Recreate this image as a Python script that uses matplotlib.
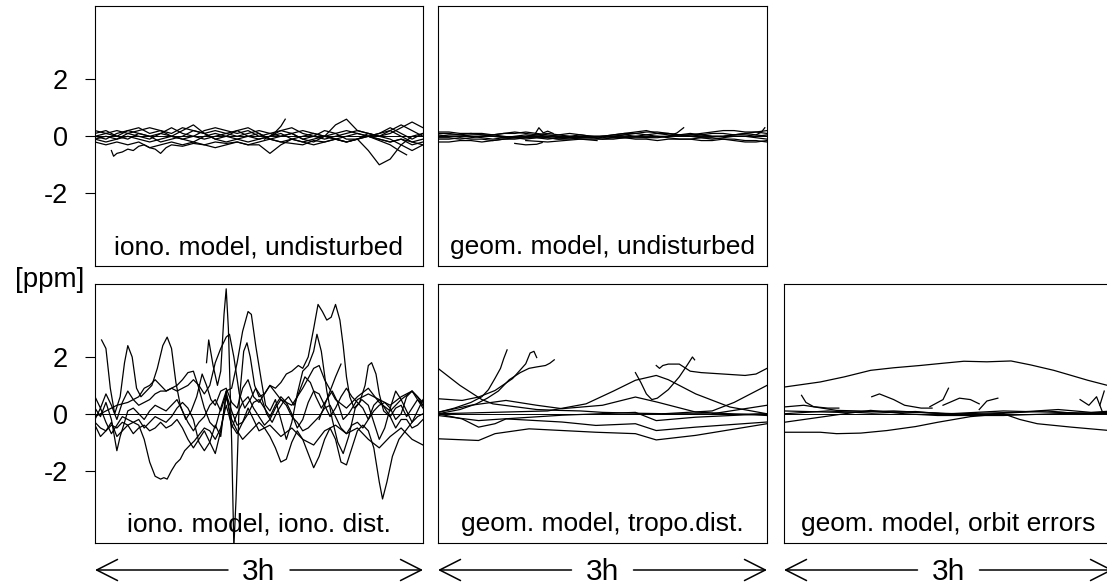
import matplotlib
matplotlib.use("Agg")
import matplotlib.pyplot as plt

plt.rcParams['font.family'] = ['Liberation Sans', 'DejaVu Sans']

W, H = 1107, 586

# time axis for the regularly sampled curves (hours, 0.1 h steps)
hours = [round(0.1 * i, 1) for i in range(31)]

# ---- iono. model, undisturbed  (values on `hours`)
iono_undist = [
    [0.0, 0.1, 0.2, 0.1, 0.2, 0.3, 0.2, 0.1, 0.3, 0.2, 0.1, 0.2, 0.1, 0.0, 0.1, 0.2,
     0.1, 0.0, 0.1, 0.2, 0.1, 0.0, 0.4, 0.6, 0.2, 0.1, 0.0, 0.1, 0.3, 0.5, 0.3],
    [-0.1, 0.0, -0.1, 0.1, 0.0, -0.1, 0.1, 0.0, 0.2, 0.4, 0.1, -0.1, 0.0, 0.2, 0.3, 0.1,
     -0.1, 0.0, 0.1, -0.1, 0.0, 0.2, 0.1, -0.1, -0.1, -0.5, -1.0, -0.8, -0.3, 0.0, 0.1],
    [0.1, 0.2, 0.0, -0.1, 0.1, 0.0, -0.2, -0.1, 0.0, 0.2, 0.1, -0.1, -0.2, -0.1, 0.0, 0.1,
     -0.1, -0.2, -0.1, 0.0, 0.1, 0.0, -0.1, 0.0, 0.1, 0.0, 0.1, 0.2, 0.0, -0.2, -0.1],
    [-0.2, -0.3, -0.2, -0.3, -0.2, -0.4, -0.3, -0.2, -0.3, -0.2, -0.3, -0.4, -0.3, -0.2, -0.3, -0.3,
     -0.6, -0.3, -0.1, -0.2, -0.3, -0.2, -0.1, -0.2, -0.1, 0.0, -0.1, -0.2, -0.1, -0.3, -0.2],
    [0.0, -0.1, 0.1, 0.2, 0.1, 0.0, 0.1, 0.3, 0.1, 0.0, -0.1, 0.0, 0.1, 0.2, 0.0, -0.1,
     0.0, 0.2, 0.1, -0.1, -0.2, 0.0, 0.1, 0.2, 0.1, 0.0, 0.1, 0.3, 0.1, -0.1, 0.1],
    [-0.1, -0.2, -0.1, 0.0, -0.1, -0.2, -0.1, 0.0, -0.1, -0.2, 0.0, 0.1, 0.0, -0.1, -0.2, -0.1,
     0.0, 0.1, -0.1, -0.2, -0.1, 0.0, -0.1, -0.2, -0.1, 0.1, 0.0, -0.1, -0.3, -0.5, -0.3],
    [0.2, 0.1, 0.0, 0.2, 0.3, 0.1, 0.2, 0.0, -0.1, 0.0, 0.2, 0.3, 0.2, 0.1, 0.2, 0.0,
     0.1, 0.2, 0.3, 0.1, 0.0, -0.1, 0.0, 0.1, 0.2, 0.1, 0.0, 0.2, 0.4, 0.2, 0.0],
]
iono_undist_parts = [
    [(0.15, -0.5), (0.17, -0.7), (0.2, -0.6), (0.25, -0.55), (0.3, -0.45), (0.35, -0.5),
     (0.4, -0.35), (0.45, -0.3), (0.5, -0.4), (0.55, -0.45), (0.6, -0.6), (0.65, -0.4),
     (0.7, -0.3), (0.8, -0.35), (0.9, -0.25), (1.0, -0.3), (1.1, -0.2), (1.2, -0.25),
     (1.3, -0.2), (1.4, -0.3), (1.5, -0.2), (1.6, -0.1), (1.7, -0.2), (1.8, -0.25),
     (1.9, -0.3), (2.0, -0.15), (2.1, -0.2), (2.2, -0.1), (2.3, -0.2), (2.4, -0.1),
     (2.5, 0.0), (2.6, -0.1), (2.7, -0.2), (2.8, -0.1), (2.9, -0.2), (3.0, -0.3)],
    [(1.55, -0.1), (1.6, 0.0), (1.65, 0.15), (1.7, 0.35), (1.74, 0.6)],
    [(2.5, 0.0), (2.6, -0.15), (2.7, -0.3), (2.78, -0.5), (2.85, -0.65)],
]

# ---- geom. model, undisturbed  (values on `hours`)
geom_undist = [
    [0.1, 0.1, 0.05, 0.1, 0.1, 0.05, 0.1, 0.1, 0.15, 0.1, 0.05, 0.0, 0.0, 0.05, 0.0, 0.0,
     0.05, 0.1, 0.1, 0.05, 0.1, 0.1, 0.05, 0.0, 0.05, 0.1, 0.1, 0.05, 0.1, 0.15, 0.1],
    [-0.1, -0.1, -0.05, -0.1, -0.1, -0.15, -0.1, -0.1, -0.05, 0.0, -0.05, -0.1, -0.05, 0.0, -0.05, -0.1,
     -0.1, -0.05, 0.0, 0.05, 0.0, -0.05, -0.1, -0.1, -0.15, -0.15, -0.1, -0.15, -0.2, -0.2, -0.15],
    [0.05, 0.0, 0.0, 0.05, 0.05, 0.0, -0.05, -0.05, 0.0, 0.05, 0.1, 0.05, 0.0, -0.05, -0.05, 0.0,
     0.05, 0.1, 0.15, 0.2, 0.1, 0.05, 0.0, 0.05, 0.05, 0.0, 0.0, 0.05, 0.05, 0.0, 0.05],
    [-0.2, -0.2, -0.15, -0.15, -0.2, -0.15, -0.1, -0.05, -0.05, -0.05, -0.1, -0.05, -0.05, -0.1, -0.1, -0.1,
     -0.05, -0.05, -0.1, -0.1, -0.15, -0.1, -0.1, -0.1, -0.05, -0.05, -0.1, -0.1, -0.15, -0.15, -0.2],
    [0.15, 0.15, 0.1, 0.1, 0.05, 0.05, 0.1, 0.15, 0.1, 0.05, 0.0, -0.05, -0.05, -0.05, 0.0, 0.0,
     0.0, 0.05, 0.1, 0.15, 0.15, 0.1, 0.05, 0.05, 0.1, 0.15, 0.2, 0.2, 0.15, 0.15, 0.2],
    [-0.05, -0.05, -0.1, -0.05, 0.0, 0.05, 0.0, -0.05, -0.1, -0.05, -0.05, -0.1, -0.1, -0.05, -0.05, 0.0,
     -0.05, -0.05, -0.05, -0.05, 0.0, 0.0, 0.05, 0.0, -0.05, -0.1, -0.05, 0.0, 0.0, -0.05, -0.1],
    [0.0, 0.05, 0.05, 0.0, -0.05, -0.1, -0.05, 0.0, 0.05, 0.0, 0.0, 0.05, 0.1, 0.05, 0.0, -0.05,
     0.0, 0.05, 0.0, -0.05, -0.05, 0.0, 0.05, 0.1, 0.05, 0.0, 0.0, 0.05, 0.1, 0.05, 0.0],
]
geom_undist_parts = [
    [(0.7, -0.25), (0.8, -0.3), (0.9, -0.28), (0.95, -0.22)],
    [(0.88, 0.05), (0.92, 0.3), (0.96, 0.12), (1.0, 0.18), (1.05, 0.1)],
    [(2.1, 0.0), (2.18, 0.12), (2.24, 0.3)],
    [(2.9, 0.05), (2.95, 0.15), (2.98, 0.3)],
    [(0.8, -0.15), (1.0, -0.2), (1.15, -0.15), (1.3, -0.1), (1.45, -0.15)],
]

# ---- iono. model, iono. dist.  (hour, ppm)
iono_dist = [
    [(0.06, 2.6), (0.1, 2.3), (0.14, 0.9), (0.18, 0.0), (0.23, 0.6), (0.27, 1.8), (0.3, 2.4),
     (0.34, 2.0), (0.38, 0.9), (0.42, 0.6), (0.47, 0.8), (0.52, 1.0), (0.57, 1.6), (0.62, 2.4),
     (0.66, 2.7), (0.7, 2.3), (0.74, 1.1), (0.78, 0.3), (0.83, -0.2), (0.88, 0.1), (0.93, 0.6),
     (0.98, 1.4), (1.02, 1.0), (1.06, 0.5), (1.1, 0.3), (1.15, 0.8), (1.2, 0.9), (1.25, 0.4),
     (1.3, 0.2), (1.35, 0.9), (1.4, 1.2), (1.45, 0.6), (1.5, 0.4), (1.55, 0.7), (1.6, 1.0),
     (1.7, 0.5), (1.8, 0.3), (1.9, 0.9), (2.0, 1.6), (2.05, 1.7), (2.1, 1.2), (2.2, 0.5),
     (2.3, 0.2), (2.4, 0.6), (2.5, 0.9), (2.6, 0.4), (2.7, 0.1), (2.8, 0.5), (2.9, 0.8), (3.0, 0.4)],
    [(0.0, -0.3), (0.05, -0.5), (0.1, -0.6), (0.15, -0.4), (0.2, -0.5), (0.25, -0.3), (0.3, -0.4),
     (0.35, -0.3), (0.4, -0.4), (0.45, -0.9), (0.5, -1.7), (0.55, -2.2), (0.6, -2.3), (0.63, -2.25),
     (0.66, -2.3), (0.7, -2.0), (0.74, -1.75), (0.78, -1.6), (0.82, -1.3), (0.87, -1.1),
     (0.91, -0.95), (0.96, -0.7), (1.0, -0.5), (1.05, -0.6), (1.1, -0.9), (1.15, -0.5), (1.2, 0.3),
     (1.25, -0.4), (1.3, -0.7), (1.35, -0.3), (1.4, 0.2), (1.45, -0.2), (1.5, -0.6), (1.6, -0.4),
     (1.7, -0.8), (1.8, -0.5), (1.9, -0.9), (2.0, -1.1), (2.1, -0.6), (2.2, -0.4), (2.3, -0.7),
     (2.4, -0.5), (2.5, -0.9), (2.6, -1.2), (2.7, -0.8), (2.8, -0.5), (2.9, -0.9), (3.0, -1.1)],
    [(1.02, 1.8), (1.04, 2.6), (1.08, 1.7), (1.12, 1.0), (1.15, 1.5), (1.18, 3.5), (1.2, 4.4),
     (1.22, 3.0), (1.25, -1.0), (1.27, -4.7), (1.29, -3.0), (1.32, 0.5), (1.36, 2.2), (1.39, 2.5),
     (1.42, 2.0), (1.46, 1.0), (1.5, 0.6), (1.55, 0.7), (1.6, 1.0), (1.65, 0.9), (1.7, 1.1),
     (1.75, 1.4), (1.8, 1.5), (1.86, 1.7), (1.9, 1.6), (1.95, 2.0), (2.0, 3.0), (2.04, 3.85),
     (2.08, 3.6), (2.12, 3.3), (2.16, 3.4), (2.2, 3.85), (2.24, 3.3), (2.27, 2.4), (2.3, 1.3),
     (2.33, 0.6), (2.37, 0.2), (2.42, 0.4), (2.47, 1.0), (2.5, 1.7), (2.53, 1.8), (2.57, 1.4),
     (2.6, 0.7), (2.64, 0.1), (2.7, -0.1), (2.75, 0.2), (2.8, 0.3), (2.85, -0.1), (2.9, 0.2),
     (2.95, 0.5), (3.0, 0.3)],
    [(0.0, 0.6), (0.05, 0.2), (0.1, 0.7), (0.15, 0.3), (0.2, -0.2), (0.25, 0.4), (0.3, 0.8),
     (0.35, 0.5), (0.4, 0.3), (0.45, 0.4), (0.5, 0.5), (0.55, 0.7), (0.6, 0.8), (0.65, 0.8),
     (0.7, 0.9), (0.75, 1.0), (0.8, 1.2), (0.85, 1.45), (0.9, 1.5), (0.95, 0.9), (1.0, 0.2),
     (1.05, -0.3), (1.1, -0.5), (1.15, 0.2), (1.2, 0.8), (1.25, 0.9), (1.3, 1.8), (1.35, 2.9),
     (1.4, 3.6), (1.43, 3.5), (1.47, 2.4), (1.52, 1.2), (1.56, 0.3), (1.6, 0.1), (1.65, 0.5),
     (1.7, -0.2), (1.75, -0.9), (1.8, -0.3), (1.85, 0.7), (1.9, 1.5), (1.95, 1.7), (2.0, 2.2),
     (2.03, 2.8), (2.07, 2.2), (2.12, 0.8), (2.17, -0.2), (2.22, -1.0), (2.27, -1.4), (2.32, -0.8),
     (2.38, 0.2), (2.44, 0.5), (2.5, 0.3), (2.55, -0.3), (2.6, -0.9), (2.65, -0.5), (2.7, 0.2),
     (2.75, 0.8), (2.8, 0.5), (2.85, 0.1), (2.9, -0.3), (2.95, 0.1), (3.0, 0.5)],
    [(0.0, -0.1), (0.1, 0.1), (0.2, 0.3), (0.3, 0.4), (0.4, 0.6), (0.45, 0.9), (0.5, 1.0),
     (0.55, 1.2), (0.6, 1.0), (0.65, 0.8), (0.7, 0.9), (0.75, 0.8), (0.8, 0.9), (0.85, 1.0),
     (0.9, 1.2), (0.95, 1.0), (1.0, 0.7), (1.05, 1.0), (1.1, 1.8), (1.15, 2.3), (1.2, 2.7),
     (1.23, 2.8), (1.27, 2.0), (1.32, 0.7), (1.37, 0.2), (1.42, 0.5), (1.47, 0.9), (1.52, 0.6),
     (1.57, 0.0), (1.62, -0.3), (1.67, 0.1), (1.72, 0.4), (1.77, 0.6), (1.82, 0.3), (1.87, 0.8),
     (1.92, 1.3), (1.97, 1.1), (2.02, 0.6), (2.07, 0.2), (2.12, 0.5), (2.17, 0.8), (2.22, 0.4),
     (2.27, -0.2), (2.32, 0.0), (2.4, 0.5), (2.5, 0.7), (2.6, 0.5), (2.7, 0.3), (2.8, 0.6),
     (2.9, 0.8), (2.95, 0.6), (3.0, 0.3)],
    [(0.0, -0.4), (0.05, -0.8), (0.1, -0.6), (0.15, -0.3), (0.2, -0.8), (0.25, -0.6), (0.3, -0.4),
     (0.35, -0.7), (0.4, -0.5), (0.45, -0.4), (0.5, -0.6), (0.55, -0.5), (0.6, -0.3), (0.65, -0.5),
     (0.7, -0.4), (0.75, -0.2), (0.8, -0.5), (0.85, -0.9), (0.9, -1.2), (0.95, -0.9), (1.0, -0.6),
     (1.05, -1.0), (1.1, -1.4), (1.15, -0.6), (1.2, 0.6), (1.25, -0.2), (1.3, -0.6), (1.35, -0.9),
     (1.4, -0.7), (1.45, -0.5), (1.5, -0.3), (1.55, -0.5), (1.6, -0.8), (1.65, -1.2), (1.7, -1.7),
     (1.75, -1.6), (1.8, -1.0), (1.85, -0.6), (1.9, -0.9), (1.95, -1.4), (2.0, -1.9), (2.05, -1.5),
     (2.1, -0.9), (2.15, -0.5), (2.2, -0.9), (2.25, -1.7), (2.3, -1.8), (2.35, -1.2), (2.4, -0.6),
     (2.45, -0.4), (2.5, -0.6), (2.55, -1.2), (2.6, -2.4), (2.63, -3.0), (2.67, -2.4), (2.72, -1.5),
     (2.78, -0.9), (2.84, -0.6), (2.9, -0.3), (2.95, -0.1), (3.0, 0.0)],
    [(0.0, 0.2), (0.05, -0.1), (0.1, 0.4), (0.15, -0.2), (0.2, -1.3), (0.23, -0.8), (0.27, -0.3),
     (0.3, 0.1), (0.35, 0.2), (0.4, 0.0), (0.45, -0.2), (0.5, 0.1), (0.55, 0.3), (0.6, 0.2),
     (0.65, 0.1), (0.7, 0.3), (0.75, 0.5), (0.8, 0.1), (0.85, -0.3), (0.9, -0.6), (0.95, -0.3),
     (1.0, -0.1), (1.05, 0.3), (1.1, 0.5), (1.15, 0.1), (1.2, 0.7), (1.25, 0.1), (1.3, -0.4),
     (1.35, -0.3), (1.4, 0.0), (1.45, 0.4), (1.5, 0.5), (1.55, 0.2), (1.6, -0.1), (1.65, 0.3),
     (1.7, 0.6), (1.75, 0.4), (1.8, 0.0), (1.85, -0.5), (1.9, -0.2), (1.95, 0.4), (2.0, 0.8),
     (2.05, 0.7), (2.1, 0.3), (2.15, -0.1), (2.2, 0.2), (2.25, 0.6), (2.3, 0.9), (2.35, 0.6),
     (2.4, 0.4), (2.45, 0.2), (2.5, -0.2), (2.55, 0.1), (2.6, 0.3), (2.65, 0.4), (2.7, 0.2),
     (2.75, -0.2), (2.8, 0.0), (2.85, 0.6), (2.9, 0.8), (2.95, 0.5), (3.0, 0.2)],
    [(0.0, -0.2), (0.05, 0.2), (0.1, -0.3), (0.15, -0.7), (0.2, -0.4), (0.25, -0.1), (0.3, -0.2),
     (0.35, -0.3), (0.4, -0.2), (0.45, -0.5), (0.5, -0.3), (0.55, -0.1), (0.6, -0.2), (0.65, -0.3),
     (0.7, -0.1), (0.75, 0.2), (0.8, 0.4), (0.85, 0.2), (0.9, -0.2), (0.95, -1.0), (1.0, -1.3),
     (1.05, -1.0), (1.1, -0.4), (1.15, -0.8), (1.2, 0.8), (1.25, -0.5), (1.3, 0.0), (1.35, 0.4),
     (1.4, 0.6), (1.45, 0.2), (1.5, -0.1), (1.55, -0.4), (1.6, -0.2), (1.65, 0.2), (1.7, 0.5),
     (1.75, 0.3), (1.8, -0.1), (1.85, -0.3), (1.9, -0.6), (1.95, -0.5), (2.0, -0.3), (2.05, -0.1),
     (2.1, 0.2), (2.15, 0.3), (2.2, -0.1), (2.25, -0.5), (2.3, -0.7), (2.35, -0.4), (2.4, -0.3),
     (2.45, -0.5), (2.5, -0.2), (2.55, 0.3), (2.6, 0.5), (2.65, 0.2), (2.7, -0.1), (2.75, -0.5),
     (2.8, -0.2), (2.85, -0.2), (2.9, -0.5), (2.95, -0.4), (3.0, -0.2)],
    [(2.05, -0.2), (2.1, 0.3), (2.15, 0.8), (2.2, 1.3), (2.25, 1.75)],
]

# ---- geom. model, tropo.dist.  (hour, ppm)
tropo_dist = [
    [(0.0, 1.6), (0.1, 1.3), (0.2, 1.0), (0.3, 0.75), (0.4, 0.5), (0.5, 0.35), (0.6, 0.3),
     (0.7, 0.25), (0.8, 0.2), (0.9, 0.15), (1.1, 0.12), (1.3, 0.1), (1.5, 0.05), (1.8, 0.02),
     (2.1, 0.0), (2.4, 0.0), (2.7, -0.02), (3.0, 0.0)],
    [(0.0, 0.05), (0.15, 0.2), (0.3, 0.4), (0.4, 0.6), (0.46, 0.85), (0.52, 1.25), (0.57, 1.6),
     (0.6, 1.95), (0.63, 2.25)],
    [(0.0, 0.53), (0.22, 0.47), (0.37, 0.59), (0.52, 0.82), (0.68, 1.24), (0.8, 1.76),
     (0.84, 2.14), (0.875, 2.2), (0.9, 1.98)],
    [(0.0, 0.0), (0.2, 0.15), (0.35, 0.35), (0.45, 0.55), (0.55, 0.8), (0.65, 1.2), (0.75, 1.45),
     (0.83, 1.6), (0.9, 1.65), (0.98, 1.7), (1.02, 1.78), (1.06, 1.9)],
    [(0.0, 0.05), (0.3, 0.3), (0.62, 0.47), (0.9, 0.3), (1.13, 0.18), (1.5, 0.3), (1.8, 0.59),
     (2.0, 0.41), (2.35, 0.06), (3.0, -0.06)],
    [(0.0, 0.0), (0.5, 0.05), (1.0, 0.1), (1.35, 0.35), (1.6, 0.8), (1.8, 1.18), (1.99, 1.35),
     (2.1, 1.2), (2.35, 0.7), (2.66, 0.24), (3.0, 0.0)],
    [(1.8, 1.45), (1.85, 1.1), (1.9, 0.7), (1.95, 0.5), (2.0, 0.55), (2.1, 0.85), (2.2, 1.3),
     (2.27, 1.7), (2.32, 2.0), (2.34, 1.9)],
    [(1.99, 1.7), (2.02, 1.6), (2.05, 1.7), (2.1, 1.75), (2.2, 1.75), (2.3, 1.5), (2.4, 1.45),
     (2.6, 1.4), (2.8, 1.35), (2.9, 1.4), (3.0, 1.6)],
    [(2.05, 0.0), (2.5, 0.1), (2.7, 0.4), (3.0, 1.0)],
    [(2.5, 0.0), (3.0, 0.3)],
    [(0.0, 0.0), (0.22, -0.18), (0.37, -0.47), (0.52, -0.35), (0.62, -0.18), (1.13, -0.29),
     (1.44, -0.41), (1.8, -0.35), (1.99, -0.59), (2.35, -0.47), (3.0, -0.29)],
    [(0.0, -0.88), (0.37, -0.94), (0.52, -0.7), (0.83, -0.53), (1.44, -0.65), (1.8, -0.7),
     (1.99, -0.92), (2.35, -0.76), (3.0, -0.35)],
    [(0.0, -0.06), (0.37, -0.24), (0.52, -0.2), (1.13, -0.05), (1.8, 0.05), (1.99, -0.24),
     (2.35, -0.12), (3.0, 0.0)],
]

# ---- geom. model, orbit errors  (hour, ppm)
orbit_err = [
    [(0.0, 0.94), (0.33, 1.12), (0.55, 1.3), (0.79, 1.53), (1.0, 1.62), (1.24, 1.7), (1.45, 1.78),
     (1.64, 1.85), (1.85, 1.83), (2.07, 1.86), (2.25, 1.72), (2.46, 1.53), (2.62, 1.35),
     (2.77, 1.18), (2.95, 1.0), (3.0, 0.95)],
    [(0.0, -0.65), (0.33, -0.65), (0.48, -0.7), (0.7, -0.68), (0.94, -0.59), (1.2, -0.45),
     (1.4, -0.3), (1.7, -0.1), (2.0, 0.0), (2.15, -0.2), (2.31, -0.35), (2.62, -0.47), (3.0, -0.6)],
    [(0.0, -0.3), (0.33, -0.12), (0.55, 0.0), (0.79, 0.12), (1.1, 0.0), (1.4, -0.06), (2.0, -0.06),
     (2.46, 0.0), (3.0, 0.05)],
    [(0.0, 0.24), (0.18, 0.3), (0.48, 0.12), (1.09, 0.06), (1.6, 0.0), (2.1, 0.05), (2.5, 0.15),
     (2.8, 0.05), (3.0, 0.1)],
    [(0.0, 0.1), (0.5, 0.05), (1.0, 0.1), (1.5, 0.0), (2.0, 0.1), (2.5, 0.05), (3.0, 0.0)],
    [(0.0, 0.0), (0.4, 0.1), (0.8, 0.02), (1.2, 0.08), (1.6, -0.05), (2.0, 0.02), (2.4, 0.1),
     (2.7, 0.0), (3.0, 0.05)],
    [(0.16, 0.65), (0.2, 0.4), (0.27, 0.25), (0.4, 0.2), (0.5, 0.2)],
    [(0.8, 0.6), (0.87, 0.7), (1.0, 0.5), (1.1, 0.3), (1.25, 0.2), (1.35, 0.2)],
    [(1.33, 0.25), (1.45, 0.5), (1.5, 0.9)],
    [(1.45, 0.3), (1.6, 0.55), (1.7, 0.5), (1.78, 0.35)],
    [(1.78, 0.15), (1.85, 0.45), (1.95, 0.55)],
    [(2.7, 0.5), (2.78, 0.3), (2.85, 0.6), (2.9, 0.1)],
    [(2.88, 0.3), (2.92, 0.8)],
]

labels = ['iono. model, undisturbed', 'geom. model, undisturbed',
          'iono. model, iono. dist.', 'geom. model, tropo.dist.',
          'geom. model, orbit errors']


def px_box(x0, x1, y0, y1):
    return [x0 / W, 1 - y1 / H, (x1 - x0) / W, (y1 - y0) / H]


fig = plt.figure(figsize=(W / 100, H / 100), dpi=100)


def make_panel(box, label, ticks):
    ax = fig.add_axes(box)
    ax.set_xlim(0, 3)
    ax.set_ylim(-4.55, 4.57)
    ax.axhline(0, color='black', lw=0.7)
    ax.set_xticks([])
    if ticks:
        ax.set_yticks([-2, 0, 2])
        ax.set_yticklabels(['-2', '0', '2'])
        ax.tick_params(axis='y', length=7.2, width=0.8, pad=12.5, labelsize=19.5)
    else:
        ax.set_yticks([])
    for s in ax.spines.values():
        s.set_linewidth(0.8)
    ax.text(0.5, 0.045, label, transform=ax.transAxes, ha='center',
            va='baseline', fontsize=19)
    return ax


def draw_grid(ax, rows):
    for vals in rows:
        ax.plot(hours, vals, color='black', lw=0.9)


def draw_pairs(ax, curves):
    for c in curves:
        t, v = zip(*c)
        ax.plot(t, v, color='black', lw=0.9)


def time_arrow(ax, x0, x1):
    xc = (x0 + x1) / 2
    yb = H - 570
    for start, end in [(xc - 31, x0), (xc + 31, x1)]:
        ax.annotate('', xy=(end, yb), xytext=(start, yb),
                    xycoords='figure pixels', textcoords='figure pixels',
                    annotation_clip=False,
                    arrowprops=dict(arrowstyle='->,head_length=0.75,head_width=0.38',
                                    lw=1.1, color='black', mutation_scale=20,
                                    shrinkA=0, shrinkB=0))
    fig.text(xc / W, 6 / H, '3h', ha='center', va='baseline', fontsize=21.5)


ax1 = make_panel(px_box(95, 423, 6, 266), labels[0], True)
draw_grid(ax1, iono_undist)
draw_pairs(ax1, iono_undist_parts)

ax2 = make_panel(px_box(438, 767, 6, 266), labels[1], False)
draw_grid(ax2, geom_undist)
draw_pairs(ax2, geom_undist_parts)

ax3 = make_panel(px_box(95, 423, 284, 543), labels[2], True)
draw_pairs(ax3, iono_dist)
time_arrow(ax3, 95, 423)

ax4 = make_panel(px_box(438, 767, 284, 543), labels[3], False)
draw_pairs(ax4, tropo_dist)
time_arrow(ax4, 438, 767)

ax5 = make_panel(px_box(784, 1113, 284, 543), labels[4], False)
draw_pairs(ax5, orbit_err)
time_arrow(ax5, 784, 1113)

fig.text(50 / W, 1 - 280 / H, '[ppm]', ha='center', va='center', fontsize=20)

fig.savefig('out.png', dpi=100)
